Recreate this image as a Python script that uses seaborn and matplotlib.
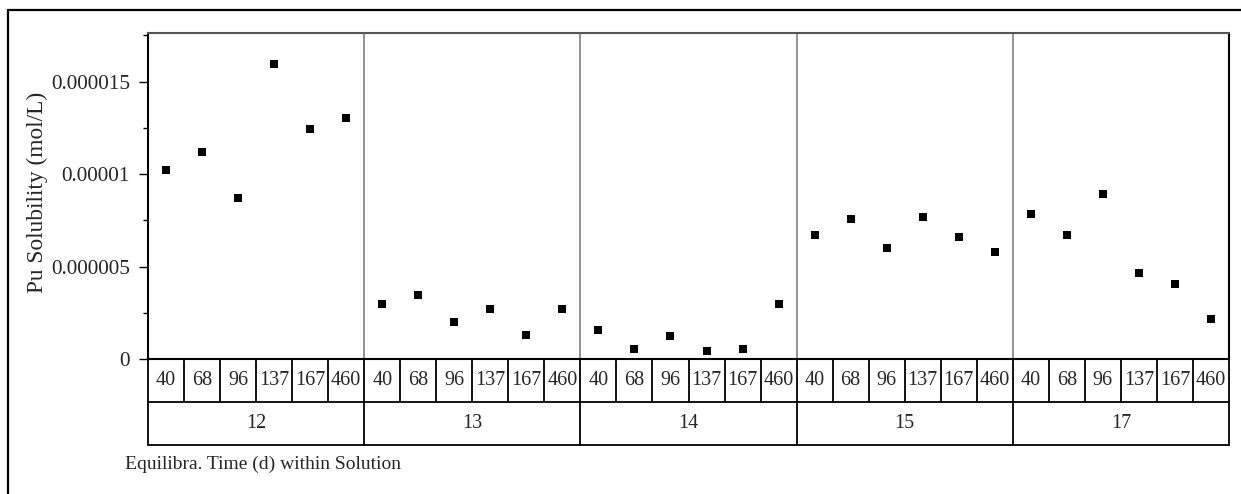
import matplotlib
matplotlib.use("Agg")
import matplotlib.pyplot as plt
import matplotlib.transforms as mtransforms
from matplotlib.lines import Line2D
from matplotlib.ticker import FixedLocator, MultipleLocator
import numpy as np
import pandas as pd
import seaborn as sns

# Solutions and equilibration times (days)
solutions = ["12", "13", "14", "15", "17"]
times = ["40", "68", "96", "137", "167", "460"]

# Pu solubility (mol/L) per solution, one value per equilibration time
sol_12 = [1.02e-5, 1.12e-5, 8.73e-6, 1.597e-5, 1.244e-5, 1.304e-5]
sol_13 = [2.98e-6, 3.47e-6, 1.99e-6, 2.68e-6, 1.32e-6, 2.68e-6]
sol_14 = [1.59e-6, 5.4e-7, 1.22e-6, 4.4e-7, 5.4e-7, 2.98e-6]
sol_15 = [6.70e-6, 7.58e-6, 6.01e-6, 7.67e-6, 6.59e-6, 5.81e-6]
sol_17 = [7.86e-6, 6.70e-6, 8.95e-6, 4.64e-6, 4.06e-6, 2.19e-6]

y_ticks = [0, 5e-6, 1e-5, 1.5e-5]
y_tick_labels = ["0", "0.000005", "0.00001", "0.000015"]

sns.set_theme(style="white")
plt.rcParams["font.family"] = ["Liberation Serif", "DejaVu Serif"]

series = [sol_12, sol_13, sol_14, sol_15, sol_17]
rows = []
for s, vals in zip(solutions, series):
    for t, v in zip(times, vals):
        rows.append({"cell": f"{s}|{t}", "solution": s, "time": t, "value": v})
df = pd.DataFrame(rows)
order = list(df["cell"])

W, H = 1241, 494
fig = plt.figure(figsize=(W / 100, H / 100), dpi=100)
left, right, top, bottom = 148, 1229, 33, 359
ax = fig.add_axes([left / W, 1 - bottom / H, (right - left) / W, (bottom - top) / H])

sns.stripplot(data=df, x="cell", y="value", order=order, jitter=False,
              marker="s", color="black", size=6.2, linewidth=0, ax=ax)

n = len(order)
ax.set_xlim(-0.5, n - 0.5)
ax.set_ylim(0, 1.763e-5)
ax.set_xticks([])
ax.set_xlabel("")
ax.set_ylabel("")
ax.yaxis.set_major_locator(FixedLocator(y_ticks))
ax.set_yticklabels(y_tick_labels)
ax.yaxis.set_minor_locator(MultipleLocator(2.5e-6))
ax.tick_params(axis="y", which="major", direction="out", length=6.5, width=1,
               color="black", labelsize=15.3, pad=6.5, left=True)
ax.tick_params(axis="y", which="minor", direction="out", length=3.6, width=1,
               color="black", left=True)

fig.text(37 / W, 1 - 192 / H, "Pu Solubility (mol/L)", rotation=90,
         ha="center", va="center", fontsize=16.8)

for side in ["left", "right", "bottom"]:
    ax.spines[side].set_color("black")
    ax.spines[side].set_linewidth(1.5)
ax.spines["top"].set_color("#555555")
ax.spines["top"].set_linewidth(1.5)

k = len(times)
# gray separators between solutions inside the plot
for g in range(1, len(solutions)):
    ax.axvline(g * k - 0.5, color="#8a8a8a", lw=1.3, zorder=0)

# nested category table below the axis
trans = mtransforms.blended_transform_factory(ax.transData, ax.transAxes)
axh = bottom - top
row1 = -43 / axh
row2 = -86 / axh
lk = dict(color="black", lw=1.3, transform=trans, clip_on=False)
ax.plot([-0.5, n - 0.5], [row1, row1], **lk)
ax.plot([-0.5, n - 0.5], [row2, row2], **lk)
ax.plot([-0.5, -0.5], [0, row2], **lk)
ax.plot([n - 0.5, n - 0.5], [0, row2], **lk)
for i in range(1, n):
    if i % k == 0:
        ax.plot([i - 0.5, i - 0.5], [0, row2], **lk)
    else:
        ax.plot([i - 0.5, i - 0.5], [0, row1], **lk)
for i, cell in enumerate(order):
    ax.text(i, row1 / 2, cell.split("|")[1], transform=trans, ha="center",
            va="center", fontsize=14.5)
for g, s in enumerate(solutions):
    ax.text(g * k + (k - 1) / 2, (row1 + row2) / 2, s, transform=trans,
            ha="center", va="center", fontsize=14.5)

fig.text(125 / W, 1 - 464 / H, "Equilibra. Time (d) within Solution",
         ha="left", va="center", fontsize=14)

# outer frame (top and left edges)
fig.add_artist(Line2D([8 / W, 1], [1 - 10 / H, 1 - 10 / H], color="black",
                      lw=1.6, transform=fig.transFigure))
fig.add_artist(Line2D([8 / W, 8 / W], [0, 1 - 10 / H], color="black",
                      lw=1.6, transform=fig.transFigure))

fig.savefig("out.png", dpi=100, facecolor="white")
